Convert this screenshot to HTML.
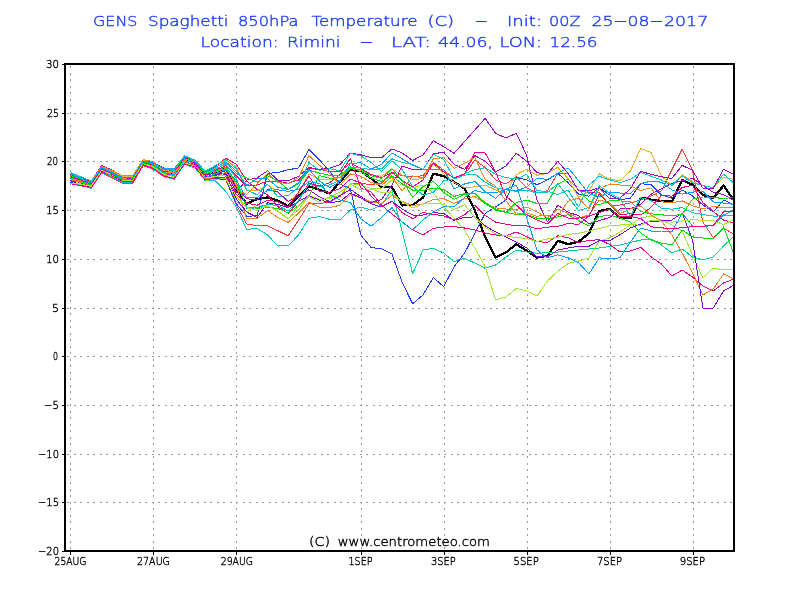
<!DOCTYPE html><html><head><meta charset="utf-8"><style>html,body{margin:0;padding:0;background:#fff;}svg{display:block;}text{white-space:pre;font-family:"DejaVu Sans","Liberation Sans",sans-serif;font-weight:200;stroke-width:0.4px;}</style></head><body>
<svg width="800" height="600" viewBox="0 0 800 600">
<rect width="800" height="600" fill="#fff"/>
<path d="M70.5 66V550 M153.5 66V550 M236.5 66V550 M361.5 66V550 M444.5 66V550 M527.5 66V550 M610.5 66V550 M693.5 66V550 M67 113.5H733 M67 161.5H733 M67 210.5H733 M67 259.5H733 M67 308.5H733 M67 356.5H733 M67 405.5H733 M67 454.5H733 M67 502.5H733" stroke="#999" stroke-width="1" stroke-dasharray="2 4.5" fill="none" shape-rendering="crispEdges"/>
<g fill="none" stroke-linejoin="round" shape-rendering="crispEdges"><polyline points="70.5,178.1 80.9,181.2 91.2,184.7 101.6,169.1 112.0,174.0 122.3,179.3 132.7,179.5 143.1,162.8 153.4,165.5 163.8,172.5 174.2,174.0 184.5,158 194.9,163 205.3,174.7 215.6,172 226.0,168 236.4,190 246.7,203.7 257.1,199 267.5,197.5 277.8,200.5 288.2,206.3 298.6,196 308.9,186.3 319.3,189.7 329.7,193.5 340.0,182 350.4,169.5 360.8,171 371.1,178.5 381.5,187 391.9,187.1 402.2,205.4 412.6,205 423.0,197.6 433.4,173.7 443.7,176.1 454.1,182 464.5,188.4 474.8,210.4 485.2,237 495.6,257.5 505.9,252.5 516.3,244.2 526.7,250.8 537.0,257.5 547.4,255.8 557.8,240.8 568.1,244.2 578.5,241.7 588.9,233.3 599.2,211 609.6,209 620.0,217.5 630.3,218.4 640.7,197.8 651.1,199.7 661.4,201 671.8,201.6 682.2,180 692.5,184.7 702.9,195 713.3,197.8 723.6,185.6 734.0,200.6" stroke="#000" stroke-width="2.3"/>
<polyline points="70.5,181.9 80.9,185.3 91.2,188.2 101.6,172.8 112.0,177.4 122.3,182.7 132.7,182.9 143.1,165.5 153.4,169.3 163.8,176.8 174.2,179.2 184.5,164.3 194.9,167.8 205.3,180.8 215.6,181 226.0,191.7 236.4,207.4 246.7,229.4 257.1,228.5 267.5,234.9 277.8,245.9 288.2,245.9 298.6,234.9 308.9,218.4 319.3,216.6 329.7,219.3 340.0,220 350.4,210 360.8,207 371.1,210 381.5,205 391.9,190" stroke="#00c8c8" stroke-width="1"/>
<polyline points="391.9,190 402.2,232 412.6,273.8 423.0,250 433.4,248.3 443.7,253 454.1,261.7 464.5,258.3 474.8,263 485.2,268.3 495.6,265 505.9,257 516.3,250 526.7,252 537.0,253.3 547.4,252.7 557.8,252 568.1,251.0 578.5,250 588.9,249.0 599.2,248 609.6,246.5 620.0,245 630.3,242.5 640.7,240 651.1,239 661.4,245 671.8,253 682.2,249 692.5,257 702.9,260 713.3,257 723.6,246 734.0,236" stroke="#00d28c" stroke-width="1"/>
<polyline points="70.5,177.8 80.9,182.0 91.2,187.1 101.6,172.4 112.0,177.8 122.3,183.1 132.7,183.3 143.1,165.8 153.4,168.9 163.8,176.3 174.2,177.6 184.5,162.5 194.9,164.6 205.3,176.2 215.6,178 226.0,180 236.4,205 246.7,223.9 257.1,225.7 267.5,225.7 277.8,230.7 288.2,235.8 298.6,220.2 308.9,203.7 319.3,203.7 329.7,201.9 340.0,196.6 350.4,183.3 360.8,183.4 371.1,184.6 381.5,183.1 391.9,172.5 402.2,175.7 412.6,176.9 423.0,175.6 433.4,162.5 443.7,170 454.1,178.8 464.5,175 474.8,160 485.2,167.5 495.6,180 505.9,184 516.3,176.7 526.7,188 537.0,192.7 547.4,190.7 557.8,173.3 568.1,173.3 578.5,190.7 588.9,192.7 599.2,192.5 609.6,205 620.0,205 630.3,203 640.7,200 651.1,196 661.4,190.9 671.8,170 682.2,149.2 692.5,170 702.9,222 713.3,237.6 723.6,228 734.0,234.4" stroke="#fa3c3c" stroke-width="1"/>
<polyline points="70.5,182.5 80.9,183.4 91.2,184.8 101.6,168.5 112.0,172.6 122.3,176.7 132.7,176.9 143.1,160.6 153.4,163.7 163.8,170.9 174.2,173.7 184.5,160.7 194.9,165.8 205.3,179.2 215.6,178.8 226.0,179.4 236.4,203.8 246.7,216.2 257.1,215.8 267.5,173.4 277.8,172.5 288.2,169.8 298.6,167.9 308.9,149.6 319.3,159.7 329.7,171.6 340.0,184 350.4,188.8 360.8,235 371.1,247.5 381.5,248.8 391.9,253.8 402.2,282.5 412.6,303.8 423.0,295 433.4,277.5 443.7,286.7 454.1,266.7 464.5,253.3 474.8,233.3 485.2,213.3 495.6,207 505.9,200 516.3,177.3 526.7,180 537.0,184.7 547.4,180 557.8,173.3 568.1,182.7 578.5,194 588.9,196.2 599.2,187.5 609.6,195 620.0,200 630.3,198.1 640.7,183.8 651.1,184.4 661.4,195 671.8,198.1 682.2,190 692.5,196 702.9,205 713.3,212 723.6,200 734.0,205" stroke="#1e3cff" stroke-width="1"/>
<polyline points="70.5,174.9 80.9,177.7 91.2,181.8 101.6,165.3 112.0,170.2 122.3,175.9 132.7,176.1 143.1,160.0 153.4,162.1 163.8,169.6 174.2,171.0 184.5,159.8 194.9,164.2 205.3,177.2 215.6,175.4 226.0,173.1 236.4,192.2 246.7,180 257.1,177.9 267.5,170.8 277.8,180 288.2,180.6 298.6,176.3 308.9,167.6 319.3,169.2 329.7,168.3 340.0,164.7 350.4,153.0 360.8,154.8 371.1,157.6 381.5,157.8 391.9,148.9 402.2,153 412.6,160.5 423.0,155 433.4,140.7 443.7,146.7 454.1,153.3 464.5,141.6 474.8,130 485.2,118.3 495.6,133.3 505.9,138 516.3,133.3 526.7,155.3 537.0,200 547.4,222 557.8,205.2 568.1,212.3 578.5,215.6 588.9,223.7 599.2,220.6 609.6,217.5 620.0,209.0 630.3,208.8 640.7,204.5 651.1,194.2 661.4,188.8 671.8,183.2 682.2,180.8 692.5,178.4 702.9,185.4 713.3,192.4 723.6,194.6 734.0,200.6" stroke="#a000c8" stroke-width="1"/>
<polyline points="70.5,181.3 80.9,183.9 91.2,186.7 101.6,170.8 112.0,176.6 122.3,181.9 132.7,181.7 143.1,164.5 153.4,167.7 163.8,175.4 174.2,178.1 184.5,163.4 194.9,167.4 205.3,180.2 215.6,179.6 226.0,178.1 236.4,201.5 246.7,211.8 257.1,205.5 267.5,206 277.8,211 288.2,218.5 298.6,210 308.9,195.5 319.3,199.3 329.7,198.6 340.0,195.1 350.4,183.5 360.8,185.4 371.1,188.4 381.5,188.7 391.9,179.9 402.2,184.9 412.6,187.9 423.0,185 433.4,193 443.7,207 454.1,218 464.5,230 474.8,248 485.2,266.7 495.6,300 505.9,297 516.3,288.4 526.7,291 537.0,296 547.4,280.8 557.8,271.2 568.1,263.5 578.5,261 588.9,258 599.2,241 609.6,238 620.0,232 630.3,225 640.7,218 651.1,216 661.4,220 671.8,225 682.2,231 692.5,255 702.9,278 713.3,268 723.6,270 734.0,269" stroke="#a0e632" stroke-width="1"/>
<polyline points="70.5,174.3 80.9,177.2 91.2,181.5 101.6,165.7 112.0,171.0 122.3,177.5 132.7,180.1 143.1,164.2 153.4,167.3 163.8,174.5 174.2,176.5 184.5,159.3 194.9,161.4 205.3,171.8 215.6,166.2 226.0,158.1 236.4,164.2 246.7,181.2 257.1,189.4 267.5,194.9 277.8,206.5 288.2,213.2 298.6,201.2 308.9,183.0 319.3,186.1 329.7,182.8 340.0,174.3 350.4,158.4 360.8,188 371.1,192 381.5,205 391.9,214 402.2,222 412.6,230 423.0,235 433.4,228.3 443.7,227 454.1,226.7 464.5,228 474.8,230 485.2,233 495.6,235 505.9,235.8 516.3,232 526.7,236.7 537.0,241.5 547.4,242.5 557.8,235.8 568.1,237.7 578.5,242.5 588.9,240.5 599.2,239.6 609.6,244.4 620.0,252 630.3,251 640.7,247.3 651.1,256.8 661.4,264 671.8,276 682.2,270 692.5,277 702.9,286 713.3,291 723.6,283 734.0,279" stroke="#f00082" stroke-width="1"/>
<polyline points="70.5,176.1 80.9,179.6 91.2,182.6 101.6,166.9 112.0,171.4 122.3,176.3 132.7,176.5 143.1,160.3 153.4,164.1 163.8,170.5 174.2,171.5 184.5,157.5 194.9,162.2 205.3,173.2 215.6,167.9 226.0,160.6 236.4,166.5 246.7,190.9 257.1,190.9 267.5,184.4 277.8,192.5 288.2,201.7 298.6,193.6 308.9,174 319.3,179.2 329.7,179.7 340.0,177.5 350.4,167.3 360.8,170.5 371.1,174.7 381.5,176.3 391.9,168.8 402.2,175.1 412.6,179.4 423.0,178.8 433.4,163.8 443.7,173.8 454.1,182.5 464.5,187.5 474.8,186.9 485.2,185 495.6,190 505.9,193.3 516.3,174.7 526.7,169.3 537.0,175.3 547.4,173.3 557.8,167.3 568.1,178.7 578.5,197.5 588.9,191 599.2,173.8 609.6,179.4 620.0,180.6 630.3,171.2 640.7,148.5 651.1,152.5 661.4,176.2 671.8,185 682.2,174.7 692.5,181.7 702.9,185.5 713.3,187.6 723.6,177.4 734.0,179.5" stroke="#e6af2d" stroke-width="1"/>
<polyline points="70.5,172.6 80.9,176.7 91.2,181.1 101.6,166.1 112.0,171.8 122.3,178.3 132.7,180.5 143.1,163.2 153.4,165.7 163.8,171.8 174.2,170.4 184.5,155.7 194.9,160.2 205.3,171.2 215.6,165.4 226.0,159.4 236.4,168.8 246.7,189.9 257.1,194.7 267.5,184.1 277.8,196.9 288.2,195.5 298.6,187.1 308.9,162.5 319.3,170.3 329.7,168.7 340.0,170.8 350.4,153.3 360.8,155.9 371.1,162.4 381.5,171.3 391.9,160.9 402.2,169.6 412.6,186.6 423.0,195.2 433.4,192.2 443.7,180.9 454.1,178.7 464.5,173.7 474.8,169.6 485.2,167.7 495.6,174.3 505.9,177.5 516.3,179.1 526.7,174.4 537.0,190.8 547.4,191.3 557.8,194.5 568.1,190.1 578.5,206.8 588.9,185 599.2,176.2 609.6,180 620.0,182.5 630.3,179.4 640.7,172.5 651.1,176.2 661.4,180 671.8,185.5 682.2,175.7 692.5,182.8 702.9,185.5 713.3,187.6 723.6,174.1 734.0,183.3" stroke="#00c8c8" stroke-width="1"/>
<polyline points="70.5,180.1 80.9,182.9 91.2,186.0 101.6,171.2 112.0,176.2 122.3,181.5 132.7,181.3 143.1,163.9 153.4,166.5 163.8,173.6 174.2,175.4 184.5,162.0 194.9,165.0 205.3,176.8 215.6,174.6 226.0,170.6 236.4,187.5 246.7,198.7 257.1,199.9 267.5,189.5 277.8,192.0 288.2,201.4 298.6,196.5 308.9,189.8 319.3,196.7 329.7,201.6 340.0,195.7 350.4,189.4 360.8,196.6 371.1,202.6 381.5,199.5 391.9,185.0 402.2,166 412.6,169.4 423.0,169.4 433.4,153.8 443.7,152.2 454.1,164.4 464.5,169.4 474.8,155.6 485.2,161.2 495.6,172 505.9,166 516.3,153.3 526.7,161.3 537.0,172.7 547.4,174 557.8,161.3 568.1,173.3 578.5,190.7 588.9,191 599.2,187.5 609.6,198.8 620.0,198 630.3,188.8 640.7,171.2 651.1,174.4 661.4,176.8 671.8,178.4 682.2,165.4 692.5,170.3 702.9,188.2 713.3,188.2 723.6,169.2 734.0,174.7" stroke="#a000c8" stroke-width="1"/>
<polyline points="70.5,179.6 80.9,182.4 91.2,185.6 101.6,169.6 112.0,173.8 122.3,178.7 132.7,178.5 143.1,162.3 153.4,165.3 163.8,172.3 174.2,173.2 184.5,160.2 194.9,163.8 205.3,175.8 215.6,172.1 226.0,168.1 236.4,185.2 246.7,219 257.1,218.5 267.5,210.4 277.8,217.5 288.2,222.3 298.6,213.1 308.9,202.3 319.3,207.2 329.7,207.6 340.0,205.2 350.4,194.7 360.8,197.7 371.1,201.8 381.5,203.2 391.9,195.5 402.2,201.5 412.6,205.6 423.0,203.8 433.4,199.5 443.7,198.6 454.1,203.6 464.5,198.7 474.8,196.5 485.2,203.5 495.6,207.9 505.9,209.0 516.3,209.4 526.7,207 537.0,212 547.4,218 557.8,209 568.1,213.5 578.5,218 588.9,215 599.2,200 609.6,203 620.0,213.5 630.3,209 640.7,206 651.1,215 661.4,221 671.8,235 682.2,253 692.5,273 702.9,295 713.3,289 723.6,274 734.0,279" stroke="#f08228" stroke-width="1"/>
<polyline points="70.5,175.5 80.9,179.1 91.2,183.3 101.6,167.7 112.0,173.4 122.3,179.1 132.7,179.7 143.1,162.9 153.4,166.1 163.8,173.2 174.2,174.3 184.5,158.4 194.9,163.0 205.3,174.2 215.6,169.6 226.0,163.1 236.4,173.5 246.7,177.9 257.1,182.2 267.5,175.7 277.8,181.1 288.2,189.3 298.6,183.8 308.9,170.3 319.3,173 329.7,175.4 340.0,175.1 350.4,166.7 360.8,171.8 371.1,177.9 381.5,181.4 391.9,175.8 402.2,183.9 412.6,190.1 423.0,190.4 433.4,188.1 443.7,189.3 454.1,196.4 464.5,193.6 474.8,193.4 485.2,202.6 495.6,209.0 505.9,212.2 516.3,214.6 526.7,214.4 537.0,218.2 547.4,218.8 557.8,216.8 568.1,214.7 578.5,220.4 588.9,226 599.2,216.5 609.6,215 620.0,218 630.3,222 640.7,233 651.1,240 661.4,243 671.8,245 682.2,230 692.5,237 702.9,238 713.3,239 723.6,227 734.0,254" stroke="#00dc00" stroke-width="1"/>
<polyline points="70.5,180.7 80.9,184.8 91.2,187.5 101.6,171.6 112.0,175.4 122.3,179.9 132.7,178.1 143.1,161.6 153.4,162.5 163.8,168.2 174.2,169.3 184.5,157.1 194.9,162.6 205.3,175.2 215.6,172.9 226.0,174.4 236.4,199.2 246.7,212 257.1,217.5 267.5,202.8 277.8,204.4 288.2,207.7 298.6,201.2 308.9,195.8 319.3,200.1 329.7,202.3 340.0,201.7 350.4,193.1 360.8,197.9 371.1,203.8 381.5,207.0 391.9,201.2 402.2,209.1 412.6,215.0 423.0,215.0 433.4,212.6 443.7,213.5 454.1,220.4 464.5,217.3 474.8,216.9 485.2,225.8 495.6,232 505.9,237 516.3,242 526.7,248 537.0,256.8 547.4,256.8 557.8,250 568.1,248 578.5,246.3 588.9,246.3 599.2,240.6 609.6,240.6 620.0,234.8 630.3,228 640.7,224 651.1,221 661.4,221 671.8,220 682.2,213 692.5,240 702.9,308 713.3,308 723.6,291 734.0,285" stroke="#8200dc" stroke-width="1"/>
<polyline points="70.5,183.6 80.9,185.8 91.2,187.8 101.6,172.0 112.0,175.8 122.3,180.3 132.7,179.3 143.1,162.6 153.4,164.9 163.8,171.4 174.2,172.1 184.5,158.0 194.9,163.4 205.3,174.8 215.6,170.4 226.0,165.6 236.4,175.8 246.7,186 257.1,185 267.5,181.1 277.8,181.1 288.2,183.3 298.6,180 308.9,168.7 319.3,169.2 329.7,171.7 340.0,171.4 350.4,163.1 360.8,168.3 371.1,174.5 381.5,178.0 391.9,172.5 402.2,180.7 412.6,186.9 423.0,180 433.4,163 443.7,172 454.1,178 464.5,173.8 474.8,152.5 485.2,153 495.6,172 505.9,196 516.3,205 526.7,215 537.0,220 547.4,224 557.8,213.5 568.1,218 578.5,218 588.9,216.5 599.2,194 609.6,204.5 620.0,215 630.3,213.5 640.7,215 651.1,207.2 661.4,195.2 671.8,196.2 682.2,187.5 692.5,185.3 702.9,202.8 713.3,211.4 723.6,220.1 734.0,223.1" stroke="#f00082" stroke-width="1"/>
<polyline points="70.5,173.2 80.9,178.2 91.2,183.7 101.6,169.2 112.0,177.0 122.3,182.3 132.7,182.5 143.1,165.2 153.4,168.1 163.8,175.0 174.2,175.9 184.5,158.9 194.9,161.8 205.3,172.8 215.6,168.8 226.0,164.4 236.4,178.2 246.7,208.8 257.1,207.7 267.5,204.4 277.8,205.5 288.2,211 298.6,200.1 308.9,184.3 319.3,186.9 329.7,184.9 340.0,180.1 350.4,167.4 360.8,168.0 371.1,169.7 381.5,168.8 391.9,158.8 402.2,162.5 412.6,164.4 423.0,169.4 433.4,154.4 443.7,159.4 454.1,179 464.5,175.2 474.8,174.0 485.2,182.2 495.6,187.7 505.9,189.9 516.3,191.4 526.7,190.1 537.0,193 547.4,192.5 557.8,183.5 568.1,197 578.5,210.5 588.9,207.5 599.2,185.7 609.6,193.2 620.0,198.5 630.3,216.5 640.7,197.5 651.1,200.8 661.4,208.2 671.8,209.2 682.2,207.6 692.5,212.8 702.9,214.5 713.3,216.1 723.6,215.9 734.0,215.6" stroke="#00c8c8" stroke-width="1"/>
<polyline points="70.5,178.4 80.9,181.0 91.2,184.5 101.6,168.1 112.0,172.2 122.3,177.1 132.7,177.3 143.1,161.3 153.4,164.5 163.8,172.7 174.2,174.8 184.5,161.6 194.9,165.4 205.3,177.8 215.6,173.8 226.0,169.4 236.4,180.5 246.7,198 257.1,197.4 267.5,190.4 277.8,189.8 288.2,191.4 298.6,189.3 308.9,181.7 319.3,183.3 329.7,195 340.0,200 350.4,202.5 360.8,218.8 371.1,226.2 381.5,217.5 391.9,207.5 402.2,222.5 412.6,230 423.0,220 433.4,212 443.7,206.5 454.1,206.9 464.5,197.4 474.8,190.5 485.2,193.0 495.6,192.8 505.9,189.3 516.3,185 526.7,218 537.0,250 547.4,257.8 557.8,254.9 568.1,257.8 578.5,262.6 588.9,274 599.2,257.8 609.6,258.8 620.0,257.8 630.3,242 640.7,228 651.1,231 661.4,231 671.8,232 682.2,213 692.5,226 702.9,227 713.3,225 723.6,215 734.0,210" stroke="#00a0ff" stroke-width="1"/>
<polyline points="70.5,177.2 80.9,181.5 91.2,185.2 101.6,170.0 112.0,174.6 122.3,179.5 132.7,178.9 143.1,161.9 153.4,163.3 163.8,169.1 174.2,169.9 184.5,156.6 194.9,161.0 205.3,173.8 215.6,171.2 226.0,166.9 236.4,182.8 246.7,207 257.1,208.2 267.5,207.7 277.8,208.2 288.2,213.1 298.6,205.5 308.9,195.8 319.3,175.6 329.7,178.1 340.0,177.9 350.4,168.8 360.8,169.5 371.1,175.8 381.5,178.4 391.9,168.9 402.2,180.3 412.6,197.3 423.0,186.5 433.4,181.1 443.7,192.5 454.1,199.3 464.5,194.3 474.8,193.5 485.2,203.5 495.6,210.1 505.9,212.5 516.3,202.5 526.7,200.1 537.0,203.5 547.4,203.2 557.8,183.9 568.1,179.0 578.5,189.3 588.9,201.2 599.2,204.8 609.6,200.8 620.0,201.0 630.3,201.2 640.7,211.5 651.1,213.8 661.4,214.8 671.8,215.8 682.2,214.3 692.5,199.1 702.9,197.0 713.3,197.1 723.6,198.9 734.0,196.9" stroke="#00dc00" stroke-width="1"/>
<polyline points="70.5,179.0 80.9,180.5 91.2,182.2 101.6,166.5 112.0,170.6 122.3,175.5 132.7,175.7 143.1,159.7 153.4,161.7 163.8,170.0 174.2,172.6 184.5,161.1 194.9,166.2 205.3,178.8 215.6,177.1 226.0,171.9 236.4,189.8 246.7,194.3 257.1,184.1 267.5,173.4 277.8,182.3 288.2,183.7 298.6,177.7 308.9,155.7 319.3,165.0 329.7,173.4 340.0,185.0 350.4,173.9 360.8,176.2 371.1,182.5 381.5,185.4 391.9,176.9 402.2,191.1 412.6,175.9 423.0,177.9 433.4,158.9 443.7,157.5 454.1,168.4 464.5,163.4 474.8,157.7 485.2,179.6 495.6,186.2 505.9,200.9 516.3,214.1 526.7,212.9 537.0,216.2 547.4,215.2 557.8,215.9 568.1,201.2 578.5,198.1 588.9,208.7 599.2,188.9 609.6,184.2 620.0,185.0 630.3,185.8 640.7,190.5 651.1,187.8 661.4,201.8 671.8,202.8 682.2,200.9 692.5,205.9 702.9,208.7 713.3,206.6 723.6,207.4 734.0,208.1" stroke="#f08228" stroke-width="1"/>
<polyline points="70.5,183.0 80.9,184.3 91.2,186.3 101.6,170.4 112.0,175.0 122.3,180.7 132.7,180.9 143.1,163.6 153.4,166.9 163.8,174.1 174.2,177.0 184.5,162.9 194.9,166.6 205.3,178.2 215.6,176.2 226.0,175.6 236.4,196.8 246.7,207.5 257.1,210.5 267.5,205.6 277.8,211.4 288.2,219.1 298.6,205.9 308.9,196.6 319.3,202.0 329.7,196.9 340.0,192.2 350.4,184.3 360.8,189.8 371.1,189.2 381.5,192.4 391.9,193.0 402.2,201.8 412.6,208.0 423.0,203.8 433.4,203.3 443.7,204.2 454.1,209.6 464.5,204.6 474.8,217.3 485.2,227.3 495.6,234.0 505.9,235.9 516.3,237.5 526.7,238.6 537.0,241.6 547.4,239.0 557.8,237.2 568.1,234.5 578.5,233.1 588.9,231.2 599.2,228.5 609.6,225.8 620.0,225.0 630.3,224.2 640.7,225.5 651.1,220.2 661.4,221.2 671.8,222.2 682.2,221.0 692.5,219.7 702.9,220.3 713.3,220.9 723.6,224.4 734.0,219.4" stroke="#a0e632" stroke-width="1"/>
<polyline points="70.5,176.7 80.9,180.1 91.2,184.1 101.6,168.9 112.0,174.2 122.3,181.1 132.7,182.1 143.1,164.9 153.4,168.5 163.8,175.9 174.2,178.7 184.5,163.8 194.9,167.0 205.3,179.8 215.6,177.9 226.0,176.9 236.4,194.5 246.7,203.1 257.1,205.2 267.5,200.2 277.8,201.7 288.2,207.3 298.6,191.8 308.9,176.2 319.3,191.4 329.7,192.2 340.0,188.6 350.4,179.1 360.8,183.0 371.1,195.9 381.5,206.5 391.9,201.0 402.2,212.6 412.6,218.7 423.0,212.4 433.4,214.4 443.7,215.9 454.1,219.9 464.5,214.9 474.8,205.4 485.2,215.4 495.6,222.1 505.9,224.2 516.3,225.8 526.7,225.8 537.0,228.9 547.4,227.1 557.8,226.5 568.1,223.4 578.5,224.4 588.9,216.2 599.2,212.7 609.6,209.2 620.0,217.0 630.3,216.5 640.7,218.5 651.1,226.8 661.4,227.8 671.8,228.8 682.2,227.7 692.5,226.6 702.9,226.1 713.3,225.6 723.6,211.6 734.0,211.9" stroke="#f00082" stroke-width="1"/>
<polyline points="70.5,173.8 80.9,178.6 91.2,183.0 101.6,167.3 112.0,173.0 122.3,177.9 132.7,177.7 143.1,161.0 153.4,162.9 163.8,168.7 174.2,168.8 184.5,156.2 194.9,160.6 205.3,172.2 215.6,167.1 226.0,161.9 236.4,171.2 246.7,185.6 257.1,178.8 267.5,178.8 277.8,187.2 288.2,189.6 298.6,182.4 308.9,169.3 319.3,180.9 329.7,187.5 340.0,181.5 350.4,163.6 360.8,162.7 371.1,169.1 381.5,164.3 391.9,152.9 402.2,158.8 412.6,165.2 423.0,169.3 433.4,170.0 443.7,169.2 454.1,189.0 464.5,184.0 474.8,181.5 485.2,191.5 495.6,198.2 505.9,189.2 516.3,190.8 526.7,187.2 537.0,178.1 547.4,179.4 557.8,173.2 568.1,167.9 578.5,180.5 588.9,193.7 599.2,196.8 609.6,192.5 620.0,193.0 630.3,193.5 640.7,183.5 651.1,181.2 661.4,182.2 671.8,189.8 682.2,194.2 692.5,192.2 702.9,191.2 713.3,201.9 723.6,203.1 734.0,204.4" stroke="#00a0ff" stroke-width="1"/></g>
<path d="M65 63V552M64 64H735M734 63V552M64 551H735" stroke="#000" stroke-width="2" fill="none" shape-rendering="crispEdges"/>
<path d="M62 64.5H64 M62 113.5H64 M62 161.5H64 M62 210.5H64 M62 259.5H64 M62 308.5H64 M62 356.5H64 M62 405.5H64 M62 454.5H64 M62 502.5H64 M62 551.5H64" stroke="#000" stroke-width="1" fill="none" shape-rendering="crispEdges"/>
<path d="M70.5 552V555 M153.5 552V555 M236.5 552V555 M361.5 552V555 M444.5 552V555 M527.5 552V555 M610.5 552V555 M693.5 552V555" stroke="#000" stroke-width="1" fill="none" shape-rendering="crispEdges"/>
<text x="46.0" y="68" textLength="13.0" lengthAdjust="spacingAndGlyphs" font-size="11" fill="#000" stroke="#000">30</text>
<text x="47.0" y="117" textLength="12.0" lengthAdjust="spacingAndGlyphs" font-size="11" fill="#000" stroke="#000">25</text>
<text x="47.0" y="165" textLength="11.0" lengthAdjust="spacingAndGlyphs" font-size="11" fill="#000" stroke="#000">20</text>
<text x="46.0" y="214" textLength="13.0" lengthAdjust="spacingAndGlyphs" font-size="11" fill="#000" stroke="#000">15</text>
<text x="46.0" y="263" textLength="13.0" lengthAdjust="spacingAndGlyphs" font-size="11" fill="#000" stroke="#000">10</text>
<text x="52.0" y="312" textLength="7.0" lengthAdjust="spacingAndGlyphs" font-size="11" fill="#000" stroke="#000">5</text>
<text x="53.0" y="360" textLength="5.0" lengthAdjust="spacingAndGlyphs" font-size="11" fill="#000" stroke="#000">0</text>
<text x="44.0" y="409" textLength="15.0" lengthAdjust="spacingAndGlyphs" font-size="11" fill="#000" stroke="#000">−5</text>
<text x="38.0" y="458" textLength="21.0" lengthAdjust="spacingAndGlyphs" font-size="11" fill="#000" stroke="#000">−10</text>
<text x="38.0" y="506" textLength="21.0" lengthAdjust="spacingAndGlyphs" font-size="11" fill="#000" stroke="#000">−15</text>
<text x="38.0" y="555" textLength="21.0" lengthAdjust="spacingAndGlyphs" font-size="11" fill="#000" stroke="#000">−20</text>
<text x="54.5" y="565" textLength="32.0" lengthAdjust="spacingAndGlyphs" font-size="11" fill="#000" stroke="#000">25AUG</text>
<text x="137.0" y="565" textLength="33.0" lengthAdjust="spacingAndGlyphs" font-size="11" fill="#000" stroke="#000">27AUG</text>
<text x="220.75" y="565" textLength="32.25" lengthAdjust="spacingAndGlyphs" font-size="11" fill="#000" stroke="#000">29AUG</text>
<text x="348.5" y="565" textLength="24.0" lengthAdjust="spacingAndGlyphs" font-size="11" fill="#000" stroke="#000">1SEP</text>
<text x="431.0" y="565" textLength="24.75" lengthAdjust="spacingAndGlyphs" font-size="11" fill="#000" stroke="#000">3SEP</text>
<text x="513.5" y="565" textLength="25.25" lengthAdjust="spacingAndGlyphs" font-size="11" fill="#000" stroke="#000">5SEP</text>
<text x="597.0" y="565" textLength="25.0" lengthAdjust="spacingAndGlyphs" font-size="11" fill="#000" stroke="#000">7SEP</text>
<text x="679.75" y="565" textLength="25.25" lengthAdjust="spacingAndGlyphs" font-size="11" fill="#000" stroke="#000">9SEP</text>
<text x="309.0" y="546" textLength="21.0" lengthAdjust="spacingAndGlyphs" font-size="12.5" fill="#000" stroke="#000">(C)</text>
<text x="337.75" y="546" textLength="152.25" lengthAdjust="spacingAndGlyphs" font-size="12.5" fill="#000" stroke="#000">www.centrometeo.com</text>
<text x="93.0" y="26" textLength="44.5" lengthAdjust="spacingAndGlyphs" font-size="14.3" fill="#1e3cff" stroke="#1e3cff" stroke-width="0.28">GENS</text>
<text x="148.0" y="26" textLength="80.5" lengthAdjust="spacingAndGlyphs" font-size="14.3" fill="#1e3cff" stroke="#1e3cff" stroke-width="0.28">Spaghetti</text>
<text x="238.0" y="26" textLength="60.5" lengthAdjust="spacingAndGlyphs" font-size="14.3" fill="#1e3cff" stroke="#1e3cff" stroke-width="0.28">850hPa</text>
<text x="311.5" y="26" textLength="106.0" lengthAdjust="spacingAndGlyphs" font-size="14.3" fill="#1e3cff" stroke="#1e3cff" stroke-width="0.28">Temperature</text>
<text x="427.5" y="26" textLength="26.5" lengthAdjust="spacingAndGlyphs" font-size="14.3" fill="#1e3cff" stroke="#1e3cff" stroke-width="0.28">(C)</text>
<text x="475.0" y="25" textLength="12.5" lengthAdjust="spacingAndGlyphs" font-size="14.3" fill="#1e3cff" stroke="#1e3cff" stroke-width="0.28">–</text>
<text x="507.0" y="26" textLength="35.0" lengthAdjust="spacingAndGlyphs" font-size="14.3" fill="#1e3cff" stroke="#1e3cff" stroke-width="0.28">Init:</text>
<text x="549.0" y="26" textLength="31.5" lengthAdjust="spacingAndGlyphs" font-size="14.3" fill="#1e3cff" stroke="#1e3cff" stroke-width="0.28">00Z</text>
<text x="591.5" y="26" textLength="22.0" lengthAdjust="spacingAndGlyphs" font-size="14.3" fill="#1e3cff" stroke="#1e3cff" stroke-width="0.28">25</text>
<text x="613.75" y="25" textLength="13.25" lengthAdjust="spacingAndGlyphs" font-size="14.3" fill="#1e3cff" stroke="#1e3cff" stroke-width="0.28">–</text>
<text x="627.5" y="26" textLength="22.0" lengthAdjust="spacingAndGlyphs" font-size="14.3" fill="#1e3cff" stroke="#1e3cff" stroke-width="0.28">08</text>
<text x="649.75" y="25" textLength="13.25" lengthAdjust="spacingAndGlyphs" font-size="14.3" fill="#1e3cff" stroke="#1e3cff" stroke-width="0.28">–</text>
<text x="664.0" y="26" textLength="44.25" lengthAdjust="spacingAndGlyphs" font-size="14.3" fill="#1e3cff" stroke="#1e3cff" stroke-width="0.28">2017</text>
<text x="200.5" y="47" textLength="78.0" lengthAdjust="spacingAndGlyphs" font-size="14.3" fill="#1e3cff" stroke="#1e3cff" stroke-width="0.28">Location:</text>
<text x="287.0" y="47" textLength="53.5" lengthAdjust="spacingAndGlyphs" font-size="14.3" fill="#1e3cff" stroke="#1e3cff" stroke-width="0.28">Rimini</text>
<text x="360.0" y="46" textLength="13.0" lengthAdjust="spacingAndGlyphs" font-size="14.3" fill="#1e3cff" stroke="#1e3cff" stroke-width="0.28">–</text>
<text x="391.0" y="47" textLength="40.0" lengthAdjust="spacingAndGlyphs" font-size="14.3" fill="#1e3cff" stroke="#1e3cff" stroke-width="0.28">LAT:</text>
<text x="438.0" y="47" textLength="55.0" lengthAdjust="spacingAndGlyphs" font-size="14.3" fill="#1e3cff" stroke="#1e3cff" stroke-width="0.28">44.06,</text>
<text x="499.5" y="47" textLength="42.5" lengthAdjust="spacingAndGlyphs" font-size="14.3" fill="#1e3cff" stroke="#1e3cff" stroke-width="0.28">LON:</text>
<text x="549.5" y="47" textLength="48.0" lengthAdjust="spacingAndGlyphs" font-size="14.3" fill="#1e3cff" stroke="#1e3cff" stroke-width="0.28">12.56</text>
</svg></body></html>
